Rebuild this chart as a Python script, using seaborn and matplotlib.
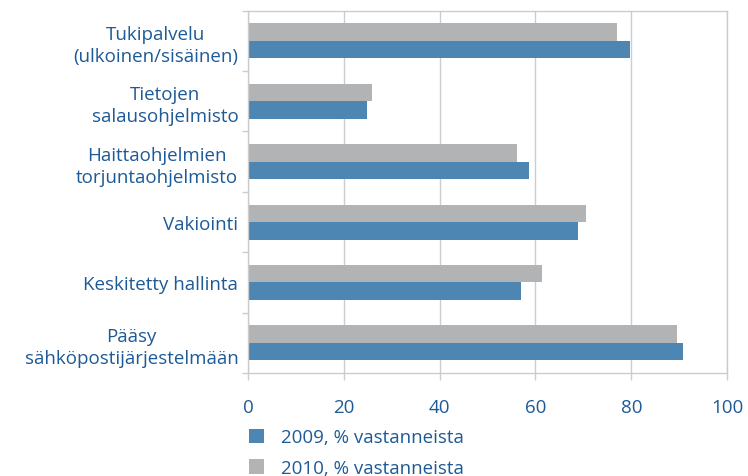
import matplotlib
matplotlib.use("Agg")
import matplotlib.pyplot as plt
import seaborn as sns
import pandas as pd
from matplotlib.patches import Patch

categories = ["Tukipalvelu\n(ulkoinen/sisäinen)", "Tietojen\nsalausohjelmisto",
              "Haittaohjelmien\ntorjuntaohjelmisto", "Vakiointi",
              "Keskitetty hallinta", "Pääsy\nsähköpostijärjestelmään"]
values_2009 = [79.8, 24.8, 58.7, 68.8, 56.9, 90.9]
values_2010 = [77.1, 25.8, 56.2, 70.6, 61.4, 89.6]
series_names = ["2009, % vastanneista", "2010, % vastanneista"]
xticks = [0, 20, 40, 60, 80, 100]

df = pd.DataFrame({
    "kategoria": categories * 2,
    "arvo": values_2009 + values_2010,
    "sarja": [series_names[0]] * len(categories) + [series_names[1]] * len(categories),
})

sns.set_theme(style="white")
plt.rcParams['font.family'] = ['Open Sans', 'DejaVu Sans']

text_color = "#1d5a97"
blue = "#4d85b3"
gray = "#b2b3b5"
line_color = "#cccccc"
fs = 13.5

fig = plt.figure(figsize=(7.48, 4.77), dpi=100)
ax = fig.add_axes([0.3316, 0.216, 0.972 - 0.3316, 0.9755 - 0.216])

sns.barplot(data=df, y="kategoria", x="arvo", hue="sarja",
            hue_order=[series_names[1], series_names[0]],
            palette={series_names[0]: blue, series_names[1]: gray},
            order=categories, orient="h", width=0.58, saturation=1,
            linewidth=0, edgecolor="none",
            legend=False, ax=ax)

ax.set_xlim(0, 100)
ax.set_ylim(len(categories) - 0.5, -0.5)
ax.set_xticks(xticks)
ax.set_xticklabels([str(t) for t in xticks], fontsize=fs, color=text_color)
ax.set_yticks(range(len(categories)))
ax.set_yticklabels(categories, fontsize=fs, color=text_color, multialignment="center",
                   linespacing=1.3)
ax.set_yticks([i - 0.5 for i in range(len(categories) + 1)], minor=True)
ax.tick_params(axis="y", which="major", length=0, pad=7)
ax.tick_params(axis="y", which="minor", length=4, color=line_color, width=1, left=True)
ax.tick_params(axis="x", which="major", length=5, color=line_color, width=1, bottom=True, pad=13)
ax.set_xlabel("")
ax.set_ylabel("")
ax.grid(axis="x", color=line_color, linewidth=1)
ax.set_axisbelow(True)
for s in ax.spines.values():
    s.set_color(line_color)
    s.set_linewidth(1)

handles = [Patch(facecolor=blue, edgecolor="none"), Patch(facecolor=gray, edgecolor="none")]
fig.legend(handles, series_names, loc="upper left", bbox_to_anchor=(0.333, 0.100),
           frameon=False, fontsize=fs, labelcolor=text_color,
           handlelength=0.8, handleheight=0.8, handletextpad=0.9, labelspacing=0.67,
           borderpad=0, borderaxespad=0)

fig.savefig("out.png", dpi=100)
